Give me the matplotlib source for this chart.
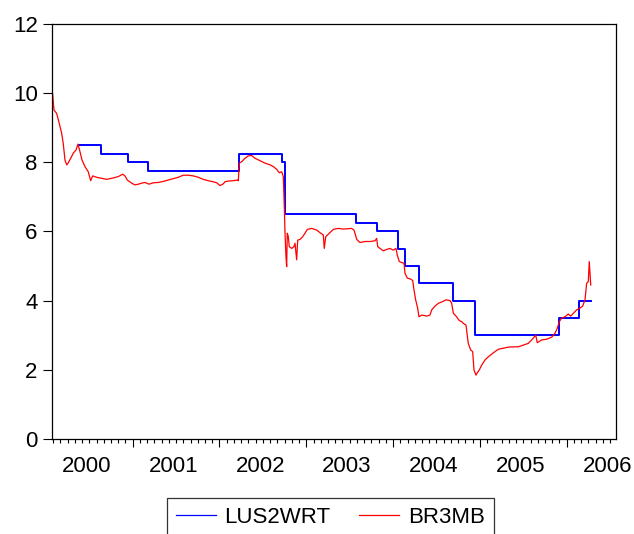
import numpy as np
import matplotlib
matplotlib.use("Agg")
import matplotlib.pyplot as plt
from matplotlib.ticker import FixedLocator, NullFormatter
from matplotlib.lines import Line2D
import matplotlib.transforms as mtransforms

plt.rcParams['font.family'] = ['Liberation Sans', 'DejaVu Sans']

# policy rate (step series), decimal year of each change and new level
lus2wrt_t = [2000.378, 2000.638, 2000.946, 2001.180, 2002.221, 2002.720, 2002.755,
             2003.573, 2003.811, 2004.053, 2004.134, 2004.302, 2004.694, 2004.944,
             2005.908, 2006.142, 2006.277]
lus2wrt = [8.5, 8.25, 8.0, 7.75, 8.25, 8.0, 6.5,
           6.25, 6.0, 5.5, 5.0, 4.5, 4.0, 3.0,
           3.5, 4.0, 4.0]

# 3-month money market rate
br3mb_t = [2000.078, 2000.093, 2000.124, 2000.154, 2000.182, 2000.200, 2000.220, 2000.240,
           2000.258, 2000.286, 2000.316, 2000.347, 2000.370, 2000.393, 2000.416, 2000.450,
           2000.488, 2000.516, 2000.539, 2000.585, 2000.643, 2000.700, 2000.776, 2000.834,
           2000.885, 2000.911, 2000.938, 2000.988, 2001.026, 2001.065, 2001.104, 2001.142,
           2001.188, 2001.237, 2001.295, 2001.353, 2001.410, 2001.468, 2001.525, 2001.583,
           2001.641, 2001.698, 2001.756, 2001.813, 2001.871, 2001.929, 2001.968, 2002.006,
           2002.044, 2002.063, 2002.101, 2002.159, 2002.205, 2002.217, 2002.228, 2002.256,
           2002.294, 2002.332, 2002.371, 2002.409, 2002.467, 2002.524, 2002.582, 2002.620,
           2002.659, 2002.689, 2002.717, 2002.735, 2002.747, 2002.755, 2002.766, 2002.774,
           2002.781, 2002.793, 2002.804, 2002.832, 2002.858, 2002.870, 2002.889, 2002.901,
           2002.927, 2002.959, 2002.985, 2003.012, 2003.062, 2003.120, 2003.166, 2003.196,
           2003.207, 2003.224, 2003.273, 2003.311, 2003.369, 2003.426, 2003.484, 2003.523,
           2003.550, 2003.581, 2003.619, 2003.676, 2003.734, 2003.792, 2003.811, 2003.823,
           2003.849, 2003.887, 2003.926, 2003.964, 2004.002, 2004.033, 2004.048, 2004.071,
           2004.099, 2004.126, 2004.137, 2004.164, 2004.203, 2004.226, 2004.241, 2004.260,
           2004.283, 2004.298, 2004.330, 2004.387, 2004.425, 2004.445, 2004.483, 2004.521,
           2004.571, 2004.609, 2004.656, 2004.675, 2004.694, 2004.725, 2004.763, 2004.790,
           2004.809, 2004.840, 2004.866, 2004.894, 2004.917, 2004.932, 2004.955, 2004.970,
           2004.993, 2005.021, 2005.059, 2005.097, 2005.136, 2005.174, 2005.212, 2005.270,
           2005.327, 2005.385, 2005.442, 2005.500, 2005.558, 2005.597, 2005.615, 2005.643,
           2005.661, 2005.712, 2005.770, 2005.827, 2005.865, 2005.892, 2005.915, 2005.942,
           2005.980, 2006.018, 2006.046, 2006.076, 2006.115, 2006.153, 2006.184, 2006.211,
           2006.230, 2006.249, 2006.260, 2006.268, 2006.277]
br3mb = [9.98, 9.52, 9.42, 9.13, 8.84, 8.55, 8.07, 7.93,
         7.99, 8.12, 8.27, 8.36, 8.53, 8.31, 8.07, 7.88,
         7.73, 7.47, 7.61, 7.57, 7.54, 7.51, 7.55, 7.59,
         7.66, 7.61, 7.49, 7.40, 7.35, 7.37, 7.40, 7.42,
         7.37, 7.41, 7.42, 7.45, 7.49, 7.53, 7.57, 7.63,
         7.63, 7.61, 7.57, 7.51, 7.47, 7.44, 7.41, 7.33,
         7.38, 7.44, 7.46, 7.47, 7.49, 7.47, 7.98, 8.02,
         8.12, 8.19, 8.20, 8.12, 8.05, 7.98, 7.93, 7.88,
         7.80, 7.70, 7.73, 7.59, 6.72, 5.95, 5.27, 4.98,
         5.95, 5.85, 5.56, 5.51, 5.56, 5.66, 5.18, 5.75,
         5.77, 5.85, 5.95, 6.06, 6.09, 6.04, 5.95, 5.90,
         5.51, 5.85, 5.97, 6.06, 6.09, 6.07, 6.08, 6.09,
         6.04, 5.77, 5.68, 5.71, 5.71, 5.73, 5.80, 5.56,
         5.51, 5.44, 5.48, 5.51, 5.46, 5.51, 5.32, 5.13,
         5.10, 5.08, 4.79, 4.65, 4.62, 4.58, 4.31, 4.02,
         3.78, 3.53, 3.58, 3.55, 3.58, 3.73, 3.84, 3.92,
         3.97, 4.02, 4.00, 3.92, 3.63, 3.55, 3.42, 3.39,
         3.34, 3.29, 2.76, 2.57, 2.52, 1.99, 1.84, 1.91,
         1.99, 2.13, 2.28, 2.37, 2.45, 2.52, 2.59, 2.62,
         2.65, 2.66, 2.66, 2.71, 2.76, 2.86, 2.91, 3.00,
         2.78, 2.86, 2.88, 2.94, 3.05, 3.20, 3.39, 3.49,
         3.53, 3.61, 3.55, 3.63, 3.73, 3.78, 3.84, 4.02,
         4.50, 4.55, 5.13, 4.79, 4.45]

years = [2000, 2001, 2002, 2003, 2004, 2005, 2006]

fig = plt.figure(figsize=(6.34, 5.34), dpi=100)
ax = fig.add_axes([0.0825, 0.1785, 0.8891, 0.776])

ax.step(lus2wrt_t, lus2wrt, where='post', color='#0000ff', lw=1.4)
ax.plot(br3mb_t, br3mb, color='#ff0000', lw=0.9)

ax.set_xlim(2000.074, 2006.568)
ax.set_ylim(0, 12)

ax.set_yticks([0, 2, 4, 6, 8, 10, 12])
ax.tick_params(axis='y', direction='out', length=6.5, width=0.8,
               labelsize=16, pad=4, right=False)

# year boundaries as major ticks, months as minor ticks, labels mid-year
ax.xaxis.set_major_locator(FixedLocator(years[1:]))
ax.xaxis.set_major_formatter(NullFormatter())
months = np.arange(2000 + 1 / 12, 2006.56, 1 / 12)
ax.xaxis.set_minor_locator(FixedLocator(months))
ax.tick_params(axis='x', which='major', direction='out', length=6, width=0.8, top=False)
ax.tick_params(axis='x', which='minor', direction='out', length=3, width=0.8, top=False)

trans = mtransforms.blended_transform_factory(ax.transData, ax.transAxes)
for yr in years:
    ax.text(yr + 0.47, -0.043, str(yr), transform=trans, ha='center', va='top',
            fontsize=16)

for sp in ax.spines.values():
    sp.set_linewidth(0.9)
    sp.set_color('black')

handles = [Line2D([], [], color='#0000ff', lw=0.9),
           Line2D([], [], color='#ff0000', lw=0.9)]
leg = fig.legend(handles, ['LUS2WRT', 'BR3MB'], loc='upper left',
                 bbox_to_anchor=(166.7 / 634, 1 - 498 / 534), ncol=2,
                 fontsize=16, frameon=True, fancybox=False, edgecolor='black',
                 borderaxespad=0, borderpad=0.4, handlelength=1.8,
                 handletextpad=0.4, columnspacing=1.3)
leg.get_frame().set_linewidth(0.9)

fig.savefig('out.png', dpi=100)
